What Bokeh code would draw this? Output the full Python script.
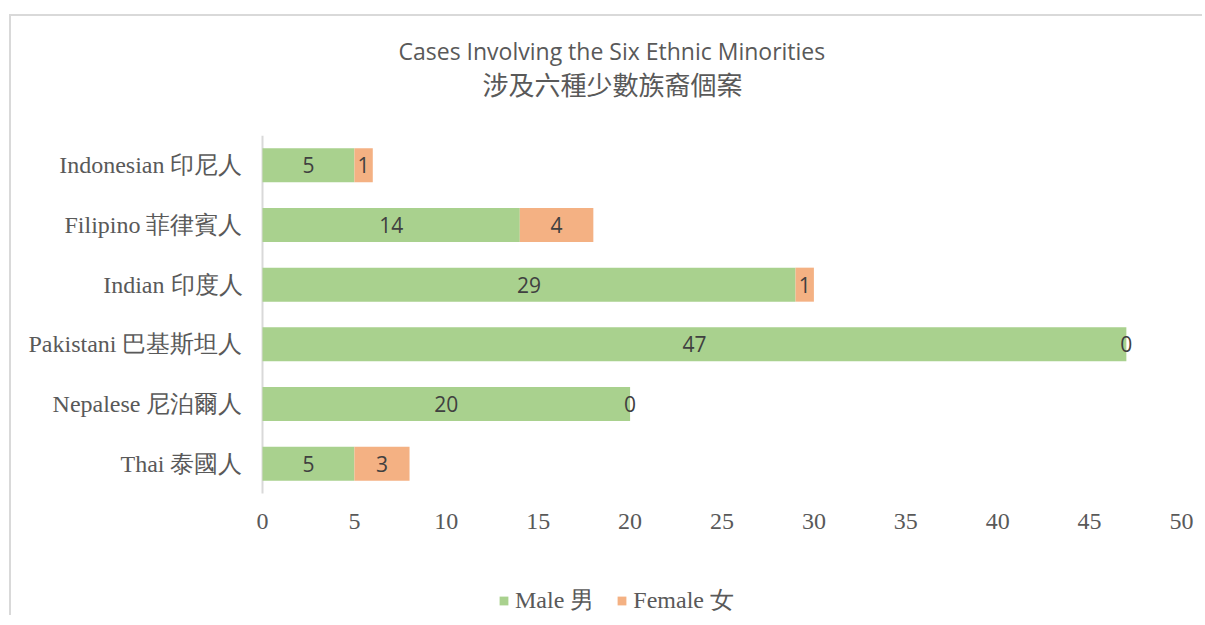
from bokeh.plotting import figure
from bokeh.models import (ColumnDataSource, Range1d, Title, Legend, LegendItem, FixedTicker)
from bokeh.core.properties import value
from bokeh.embed import file_html
from bokeh.resources import INLINE

# ---- data ----
categories = ["Indonesian 印尼人", "Filipino 菲律賓人", "Indian 印度人",
              "Pakistani 巴基斯坦人", "Nepalese 尼泊爾人", "Thai 泰國人"]
male = [5, 14, 29, 47, 20, 5]
female = [1, 4, 1, 0, 0, 3]
series_names = ["Male 男", "Female 女"]
x_ticks = [0, 5, 10, 15, 20, 25, 30, 35, 40, 45, 50]
title_en = "Cases Involving the Six Ethnic Minorities"
title_zh = "涉及六種少數族裔個案"

GREEN = "#A9D18E"
ORANGE = "#F4B183"
TXT = "#595959"

# ---- layout constants (pixels) ----
W, H = 1193, 601
LEFT, TOP, RIGHT = 244, 119, 0
FRAME_W = W - LEFT - RIGHT
FRAME_H = H - TOP                 # frame reaches the canvas bottom
CAT_H = 358                       # height used by the category band
VAL_W = 919                       # width used by the value span 0..50
PAD_L = 7                         # room left of value 0 for its tick label
n = len(categories)
py_unit = CAT_H / n
px_unit = VAL_W / (x_ticks[-1] - x_ticks[0])
x_start = x_ticks[0] - PAD_L / px_unit
x_end = x_start + FRAME_W / px_unit
y_start = -0.5 - (FRAME_H - CAT_H) / py_unit
y_ticklab = -0.5 - 28 / py_unit

ypos = [n - 1 - i for i in range(n)]
src = ColumnDataSource(dict(
    y=ypos,
    male=male,
    female=female,
    male_mid=[m / 2 for m in male],
    female_mid=[m + f / 2 for m, f in zip(male, female)],
    male_lbl=[str(m) for m in male],
    female_lbl=[str(f) for f in female],
))
tick_src = ColumnDataSource(dict(x=x_ticks, y=[y_ticklab] * len(x_ticks),
                                 t=[str(t) for t in x_ticks]))

p = figure(
    width=W, height=H,
    x_range=Range1d(x_start, x_end), y_range=Range1d(y_start, n - 0.5),
    x_axis_location=None,
    min_border_left=LEFT, min_border_right=RIGHT,
    min_border_top=TOP, min_border_bottom=0,
    output_backend="svg", toolbar_location=None,
    background_fill_color="white", border_fill_color="white",
)
p.styles = {"margin-top": "14px", "margin-left": "9px",
            "border-left": "2px solid #d9d9d9", "border-top": "2px solid #d9d9d9"}
p.outline_line_color = None
p.xgrid.visible = False
p.ygrid.visible = False

# category axis line at value 0, spanning the category band
p.segment(x0=[x_ticks[0]], y0=[-0.5], x1=[x_ticks[0]], y1=[n - 0.5],
          line_color="#d9d9d9", line_width=2)

renderers = p.hbar_stack(["male", "female"], y="y", height=0.57,
                         color=[GREEN, ORANGE], line_color=None, source=src)

p.text(x="male_mid", y="y", text="male_lbl", source=src,
       text_font=value("Open Sans"), text_font_size="21px", text_color="#404040",
       text_align="center", text_baseline="middle")
p.text(x="female_mid", y="y", text="female_lbl", source=src,
       text_font=value("Open Sans"), text_font_size="21px", text_color="#404040",
       text_align="center", text_baseline="middle")

# value-axis tick labels
p.text(x="x", y="y", text="t", source=tick_src,
       text_font=value("Liberation Serif"), text_font_size="24px", text_color=TXT,
       text_align="center", text_baseline="middle")

# category axis labels
p.yaxis.ticker = FixedTicker(ticks=ypos)
p.yaxis.major_label_overrides = {y: c for y, c in zip(ypos, categories)}
p.yaxis.bounds = (-0.5, n - 0.5)
p.yaxis.axis_line_color = None
p.yaxis.major_tick_line_color = None
p.yaxis.minor_tick_line_color = None
p.yaxis.major_tick_out = 0
p.yaxis.major_tick_in = 0
p.yaxis.major_label_standoff = 13
p.yaxis.major_label_text_font = "Liberation Serif"
p.yaxis.major_label_text_font_size = "24px"
p.yaxis.major_label_text_color = TXT

# titles: the first added sits nearest the frame
t_zh = Title(text=title_zh, align="left", offset=227,
             text_font="Noto Sans CJK TC", text_font_size="26px",
             text_font_style="normal", text_color=TXT)
t_en = Title(text=title_en, align="left", offset=143,
             text_font="Open Sans", text_font_size="23px",
             text_font_style="normal", text_color=TXT)
if "standoff" in Title.properties():
    t_zh.standoff = 67
    try:
        t_en.standoff = -74
    except Exception:
        t_en.standoff = 0
p.add_layout(t_zh, "above")
p.add_layout(t_en, "above")

legend = Legend(
    items=[LegendItem(label=series_names[0], renderers=[renderers[0]]),
           LegendItem(label=series_names[1], renderers=[renderers[1]])],
    location=(243, 1), orientation="horizontal",
    label_text_font="Liberation Serif", label_text_font_size="24px",
    label_text_color=TXT, glyph_width=11, glyph_height=11,
    label_standoff=6, spacing=22, padding=0, margin=0,
    border_line_color=None, background_fill_alpha=0,
)
p.add_layout(legend, "center")

open("out.html", "w").write(file_html(p, INLINE))
